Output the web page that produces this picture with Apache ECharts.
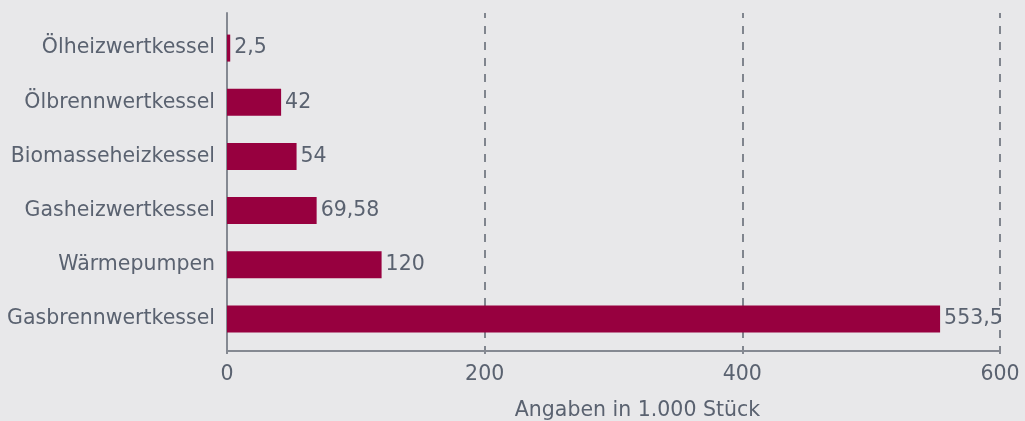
<!DOCTYPE html>
<html>
<head>
<meta charset="utf-8">
<script src="https://cdn.jsdelivr.net/npm/echarts@6/dist/echarts.min.js"></script>
<style>
html,body{margin:0;padding:0;background:#e8e8ea;}
#c{width:1025px;height:421px;}
</style>
</head>
<body>
<div id="c"></div>
<script>
const categories = ['Ölheizwertkessel','Ölbrennwertkessel','Biomasseheizkessel','Gasheizwertkessel','Wärmepumpen','Gasbrennwertkessel'];
const values = [2.5, 42, 54, 69.58, 120, 553.5];
const xTicks = [0, 200, 400, 600];
const axisTitle = 'Angaben in 1.000 Stück';

const textColor = '#5a6270';
const axisColor = '#858992';
const font = 'DejaVu Sans';
const fs = 20.5;

const chart = echarts.init(document.getElementById('c'), null, {renderer:'canvas'});
chart.setOption({
  backgroundColor: '#e8e8ea',
  animation: false,
  grid: [
    {left: 227, right: 25, top: 21, bottom: 75, containLabel: false, outerBoundsMode: 'none'},
    {left: 227, right: 25, top: 13, bottom: 70, containLabel: false, outerBoundsMode: 'none'}
  ],
  xAxis: [{
    gridIndex: 0, type: 'value', min: xTicks[0], max: xTicks[xTicks.length-1], interval: 200,
    show: false, splitLine: {show: false}
  }, {
    gridIndex: 1, type: 'value', min: xTicks[0], max: xTicks[xTicks.length-1], interval: 200,
    axisLine: {show: true, lineStyle: {color: axisColor, width: 2}},
    axisTick: {show: true, length: 3, lineStyle: {color: axisColor, width: 2}},
    splitLine: {show: true, lineStyle: {color: '#80858e', width: 2, type: [8, 8], dashOffset: 3}},
    axisLabel: {color: textColor, fontFamily: font, fontSize: fs, margin: 13},
    name: axisTitle, nameLocation: 'middle', nameGap: 49,
    nameTextStyle: {color: textColor, fontFamily: font, fontSize: fs, padding: [0, 0, 0, 48]}
  }],
  yAxis: [{
    gridIndex: 0, type: 'category', inverse: true, data: categories,
    axisLine: {show: false}, axisTick: {show: false}, splitLine: {show: false},
    axisLabel: {color: textColor, fontFamily: font, fontSize: fs, margin: 12}
  }, {
    gridIndex: 1, type: 'value', min: 0, max: 1,
    axisLine: {show: true, lineStyle: {color: axisColor, width: 2}},
    axisTick: {show: false}, splitLine: {show: false}, axisLabel: {show: false}
  }],
  series: [{
    type: 'bar', xAxisIndex: 0, yAxisIndex: 0,
    data: values,
    barWidth: 27,
    itemStyle: {color: '#97003f'},
    label: {
      show: true, position: 'right', distance: 4,
      color: textColor, fontFamily: font, fontSize: fs,
      formatter: p => String(p.value).replace('.', ',')
    }
  }]
});
</script>
</body>
</html>
